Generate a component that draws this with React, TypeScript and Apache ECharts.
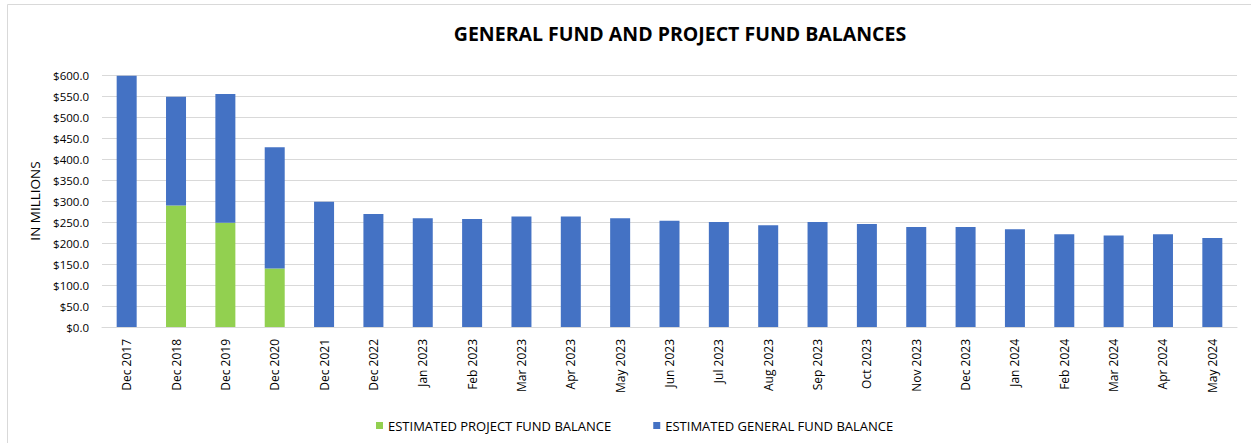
import React, { useEffect, useRef } from "react";
import * as echarts from "echarts";

const categories = [
  "Dec 2017", "Dec 2018", "Dec 2019", "Dec 2020", "Dec 2021", "Dec 2022",
  "Jan 2023", "Feb 2023", "Mar 2023", "Apr 2023", "May 2023", "Jun 2023",
  "Jul 2023", "Aug 2023", "Sep 2023", "Oct 2023", "Nov 2023", "Dec 2023",
  "Jan 2024", "Feb 2024", "Mar 2024", "Apr 2024", "May 2024",
];

const projectFund = [
  0, 289, 248, 139, 0, 0, 0, 0, 0, 0, 0, 0, 0, 0, 0, 0, 0, 0, 0, 0, 0, 0, 0,
];

const generalFund = [
  598, 259, 307, 289, 298, 269, 259, 257, 263, 263, 259, 253, 250, 242, 250,
  245, 238, 238, 233, 221, 218, 221, 212,
];

const FONT = "'Open Sans', sans-serif";

export default function App() {
  const ref = useRef<HTMLDivElement>(null);
  useEffect(() => {
    if (!ref.current) return;
    const chart = echarts.init(ref.current, undefined, { renderer: "svg" });
    chart.setOption({
      animation: false,
      textStyle: { fontFamily: FONT },
      title: {
        text: "GENERAL FUND AND PROJECT FUND BALANCES",
        left: 675,
        textAlign: "center",
        top: 18,
        textStyle: { fontFamily: FONT, fontSize: 19.5, fontWeight: "bold", color: "#000" },
      },
      graphic: [
        {
          type: "rect",
          shape: { x: 7.5, y: 4.5, width: 1260, height: 460 },
          style: { fill: "none", stroke: "#d9d9d9", lineWidth: 1 },
          silent: true,
        },
      ],
      legend: {
        top: 414,
        left: 371,
        itemWidth: 7,
        itemHeight: 7,
        itemGap: 42,
        icon: "rect",
        textStyle: { fontFamily: FONT, fontSize: 13, color: "#000" },
        data: ["ESTIMATED PROJECT FUND BALANCE", "ESTIMATED GENERAL FUND BALANCE"],
      },
      grid: { left: 102, right: 14, top: 75, bottom: 116 },
      xAxis: {
        type: "category",
        data: categories,
        axisTick: { show: false },
        axisLine: { lineStyle: { color: "#d9d9d9", width: 1 } },
        axisLabel: {
          rotate: 90,
          interval: 0,
          margin: 12,
          fontFamily: FONT,
          fontSize: 12,
          color: "#000",
        },
      },
      yAxis: {
        type: "value",
        min: 0,
        max: 600,
        interval: 50,
        name: "IN MILLIONS",
        nameLocation: "middle",
        nameGap: 56,
        nameTextStyle: { fontFamily: FONT, fontSize: 13.5, color: "#000" },
        axisLabel: {
          margin: 13,
          fontFamily: FONT,
          fontSize: 11.5,
          color: "#000",
          formatter: (v: number) => "$" + v.toFixed(1),
        },
        splitLine: { lineStyle: { color: "#d9d9d9", width: 1 } },
        axisLine: { show: false },
        axisTick: { show: false },
      },
      series: [
        {
          name: "ESTIMATED PROJECT FUND BALANCE",
          type: "bar",
          stack: "total",
          barWidth: 20,
          data: projectFund,
          itemStyle: { color: "#92D050" },
        },
        {
          name: "ESTIMATED GENERAL FUND BALANCE",
          type: "bar",
          stack: "total",
          barWidth: 20,
          data: generalFund,
          itemStyle: { color: "#4472C4" },
        },
      ],
    });
    return () => chart.dispose();
  }, []);
  return (
    <div
      ref={ref}
      style={{ position: "fixed", left: 0, top: 0, width: 1251, height: 443, background: "#fff" }}
    />
  );
}
